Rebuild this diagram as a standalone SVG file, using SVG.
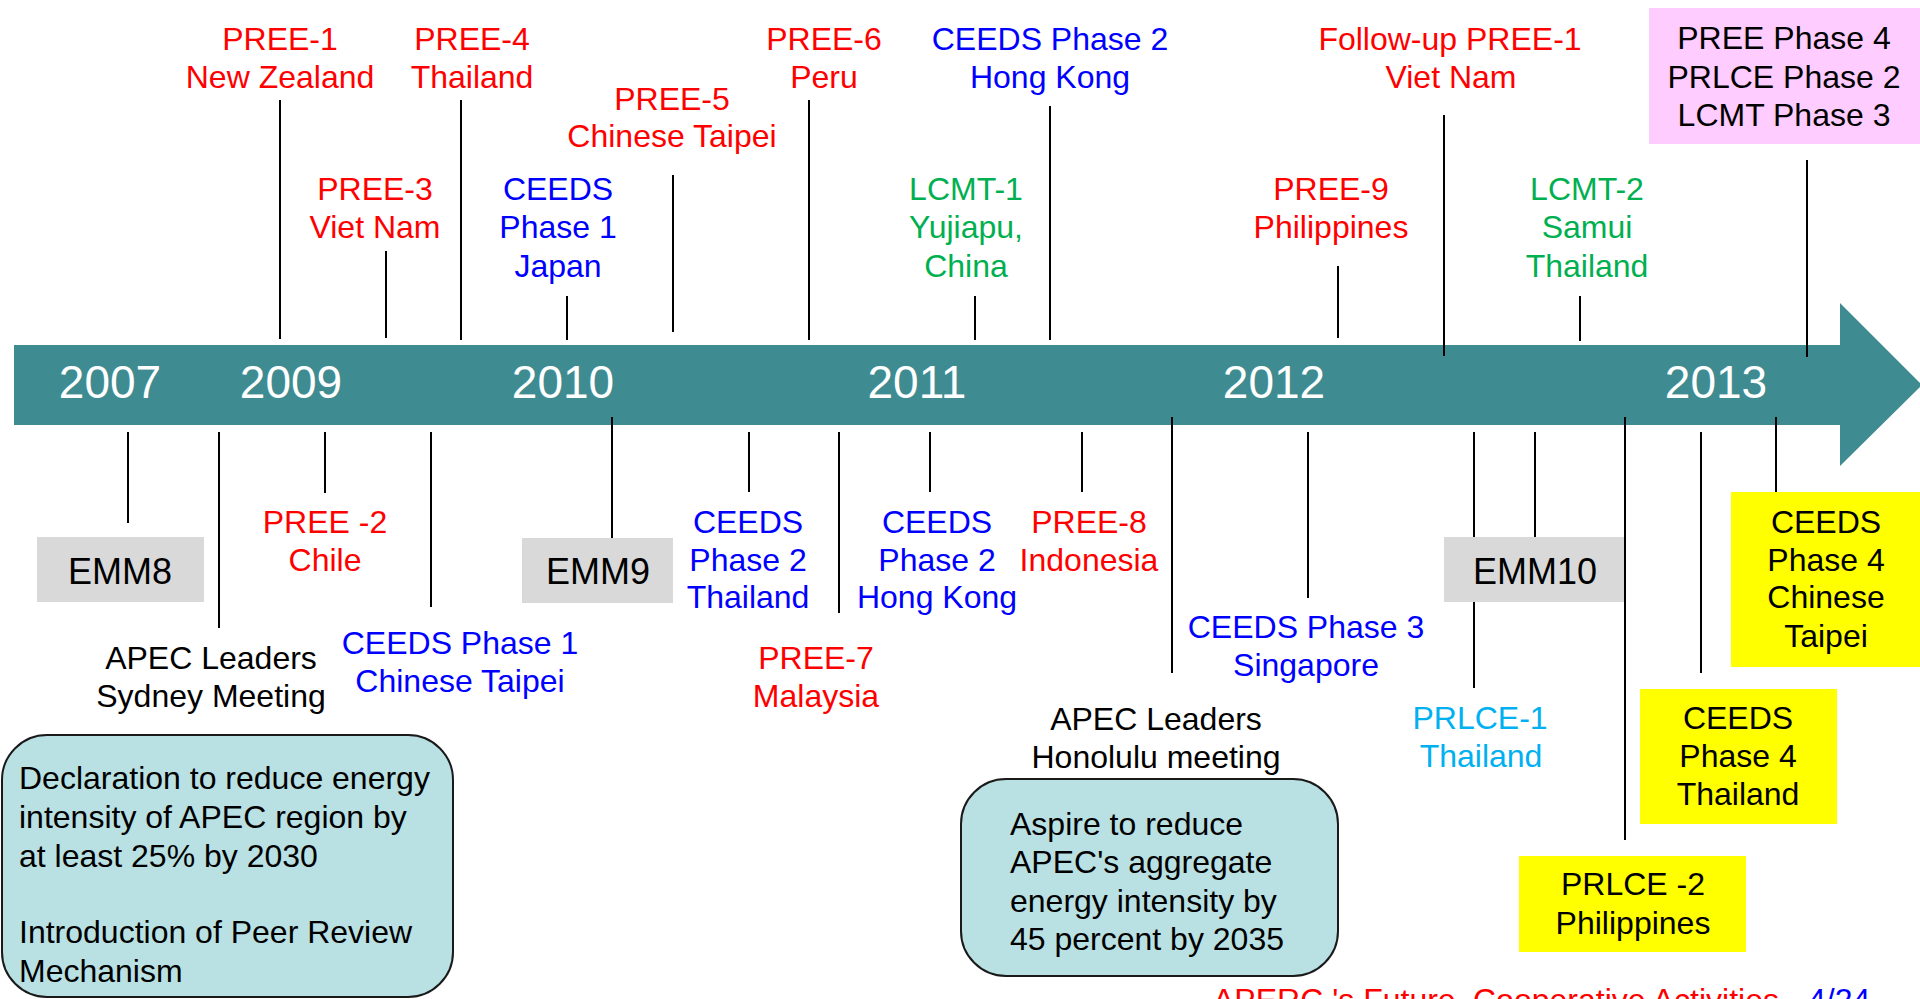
<svg xmlns="http://www.w3.org/2000/svg" width="1920" height="999" viewBox="0 0 1920 999">
<style>
text{font-family:"Liberation Sans",Arial,sans-serif;font-size:32px;}
.c{text-anchor:middle;}
.red{fill:#FF0000;}
.blue{fill:#0000FF;}
.green{fill:#00B050;}
.lblue{fill:#00B0F0;}
.blk{fill:#000000;}
.yr{fill:#FFFFFF;font-size:46px;text-anchor:middle;}
.emm{font-size:36px;text-anchor:middle;fill:#000;}
.gray{fill:#D9D9D9;}
.yel{fill:#FFFF00;}
.note{fill:#B9E0E3;stroke:#1a1a1a;stroke-width:2;}
#connectors line{stroke:#000;stroke-width:2;}
</style>
<rect width="1920" height="999" fill="#FFFFFF"/>
<g id="timeline">
<polygon points="14,345 1840,345 1840,303 1922,385 1840,466 1840,425 14,425" fill="#3E8C91"/>
<text class="yr" x="110" y="398">2007</text>
<text class="yr" x="291" y="398">2009</text>
<text class="yr" x="563" y="398">2010</text>
<text class="yr" x="917" y="398">2011</text>
<text class="yr" x="1274" y="398">2012</text>
<text class="yr" x="1716" y="398">2013</text>
</g>
<g id="connectors">
<line x1="280" y1="100" x2="280" y2="339"/>
<line x1="461" y1="100" x2="461" y2="340"/>
<line x1="386" y1="251" x2="386" y2="338"/>
<line x1="673" y1="175" x2="673" y2="332"/>
<line x1="809" y1="100" x2="809" y2="340"/>
<line x1="567" y1="296" x2="567" y2="340"/>
<line x1="975" y1="296" x2="975" y2="340"/>
<line x1="1050" y1="106" x2="1050" y2="340"/>
<line x1="1338" y1="266" x2="1338" y2="338"/>
<line x1="1444" y1="115" x2="1444" y2="356"/>
<line x1="1580" y1="296" x2="1580" y2="341"/>
<line x1="1807" y1="160" x2="1807" y2="357"/>
<line x1="128" y1="432" x2="128" y2="523"/>
<line x1="219" y1="432" x2="219" y2="628"/>
<line x1="325" y1="432" x2="325" y2="493"/>
<line x1="431" y1="432" x2="431" y2="607"/>
<line x1="612" y1="417" x2="612" y2="538"/>
<line x1="749" y1="432" x2="749" y2="492"/>
<line x1="839" y1="432" x2="839" y2="613"/>
<line x1="930" y1="432" x2="930" y2="492"/>
<line x1="1082" y1="432" x2="1082" y2="492"/>
<line x1="1172" y1="417" x2="1172" y2="673"/>
<line x1="1308" y1="432" x2="1308" y2="598"/>
<line x1="1474" y1="432" x2="1474" y2="688"/>
<line x1="1535" y1="432" x2="1535" y2="537"/>
<line x1="1625" y1="417" x2="1625" y2="840"/>
<line x1="1701" y1="432" x2="1701" y2="673"/>
<line x1="1776" y1="417" x2="1776" y2="492"/>
</g>
<g id="pree1"><text class="c red" x="280" y="50">PREE-1</text><text class="c red" x="280" y="88">New Zealand</text></g>
<g id="pree4"><text class="c red" x="472" y="50">PREE-4</text><text class="c red" x="472" y="88">Thailand</text></g>
<g id="pree3"><text class="c red" x="375" y="200">PREE-3</text><text class="c red" x="375" y="238">Viet Nam</text></g>
<g id="pree5"><text class="c red" x="672" y="110">PREE-5</text><text class="c red" x="672" y="147">Chinese Taipei</text></g>
<g id="pree6"><text class="c red" x="824" y="50">PREE-6</text><text class="c red" x="824" y="88">Peru</text></g>
<g id="ceeds1jp"><text class="c blue" x="558" y="200">CEEDS</text><text class="c blue" x="558" y="238">Phase 1</text><text class="c blue" x="558" y="277">Japan</text></g>
<g id="lcmt1"><text class="c green" x="966" y="200">LCMT-1</text><text class="c green" x="966" y="238">Yujiapu,</text><text class="c green" x="966" y="277">China</text></g>
<g id="ceeds2hk-top"><text class="c blue" x="1050" y="50">CEEDS Phase 2</text><text class="c blue" x="1050" y="88">Hong Kong</text></g>
<g id="pree9"><text class="c red" x="1331" y="200">PREE-9</text><text class="c red" x="1331" y="238">Philippines</text></g>
<g id="followup"><text class="c red" x="1450" y="50">Follow-up PREE-1</text><text class="c red" x="1451" y="88">Viet Nam</text></g>
<g id="lcmt2"><text class="c green" x="1587" y="200">LCMT-2</text><text class="c green" x="1587" y="238">Samui</text><text class="c green" x="1587" y="277">Thailand</text></g>
<g id="phase4box"><rect x="1649" y="8" width="271" height="136" fill="#FFCCFF"/><text class="c blk" x="1784" y="49">PREE Phase 4</text><text class="c blk" x="1784" y="88">PRLCE Phase 2</text><text class="c blk" x="1784" y="126">LCMT Phase 3</text></g>
<g id="emm8"><rect class="gray" x="37" y="537" width="167" height="65"/><text class="emm" x="120" y="584">EMM8</text></g>
<g id="sydney"><text class="c blk" x="211" y="669">APEC Leaders</text><text class="c blk" x="211" y="707">Sydney Meeting</text></g>
<g id="pree2"><text class="c red" x="325" y="533">PREE -2</text><text class="c red" x="325" y="571">Chile</text></g>
<g id="ceeds1ct"><text class="c blue" x="460" y="654">CEEDS Phase 1</text><text class="c blue" x="460" y="692">Chinese Taipei</text></g>
<g id="emm9"><rect class="gray" x="522" y="538" width="151" height="65"/><text class="emm" x="598" y="584">EMM9</text></g>
<g id="ceeds2th"><text class="c blue" x="748" y="533">CEEDS</text><text class="c blue" x="748" y="571">Phase 2</text><text class="c blue" x="748" y="608">Thailand</text></g>
<g id="pree7"><text class="c red" x="816" y="669">PREE-7</text><text class="c red" x="816" y="707">Malaysia</text></g>
<g id="ceeds2hk"><text class="c blue" x="937" y="533">CEEDS</text><text class="c blue" x="937" y="571">Phase 2</text><text class="c blue" x="937" y="608">Hong Kong</text></g>
<g id="pree8"><text class="c red" x="1089" y="533">PREE-8</text><text class="c red" x="1089" y="571">Indonesia</text></g>
<g id="honolulu"><text class="c blk" x="1156" y="730">APEC Leaders</text><text class="c blk" x="1156" y="768">Honolulu meeting</text></g>
<g id="ceeds3"><text class="c blue" x="1306" y="638">CEEDS Phase 3</text><text class="c blue" x="1306" y="676">Singapore</text></g>
<g id="emm10"><rect class="gray" x="1444" y="537" width="180" height="65"/><text class="emm" x="1535" y="584">EMM10</text></g>
<g id="prlce1"><text class="c lblue" x="1480" y="729">PRLCE-1</text><text class="c lblue" x="1481" y="767">Thailand</text></g>
<g id="ceeds4th"><rect class="yel" x="1640" y="689" width="197" height="135"/><text class="c blk" x="1738" y="729">CEEDS</text><text class="c blk" x="1738" y="767">Phase 4</text><text class="c blk" x="1738" y="805">Thailand</text></g>
<g id="prlce2"><rect class="yel" x="1519" y="856" width="227" height="96"/><text class="c blk" x="1633" y="895">PRLCE -2</text><text class="c blk" x="1633" y="934">Philippines</text></g>
<g id="ceeds4ct"><rect class="yel" x="1731" y="492" width="189" height="175"/><text class="c blk" x="1826" y="533">CEEDS</text><text class="c blk" x="1826" y="571">Phase 4</text><text class="c blk" x="1826" y="608">Chinese</text><text class="c blk" x="1826" y="647">Taipei</text></g>
<g id="declaration"><rect class="note" x="2" y="735" width="451" height="262" rx="45" ry="45"/>
<text class="blk" x="19" y="789">Declaration to reduce energy</text>
<text class="blk" x="19" y="828">intensity of APEC region by</text>
<text class="blk" x="19" y="867">at least 25% by 2030</text>
<text class="blk" x="19" y="943">Introduction of Peer Review</text>
<text class="blk" x="19" y="982">Mechanism</text></g>
<g id="aspire"><rect class="note" x="961" y="779" width="377" height="197" rx="45" ry="45"/>
<text class="blk" x="1010" y="835">Aspire to reduce</text>
<text class="blk" x="1010" y="873">APEC's aggregate</text>
<text class="blk" x="1010" y="912">energy intensity by</text>
<text class="blk" x="1010" y="950">45 percent by 2035</text></g>
<g id="footer"><text class="red" x="1213" y="1011">APERC 's Future</text><text class="red" x="1473" y="1011">Cooperative Activities</text><text class="blue" x="1808" y="1011">4/24</text></g>
</svg>
